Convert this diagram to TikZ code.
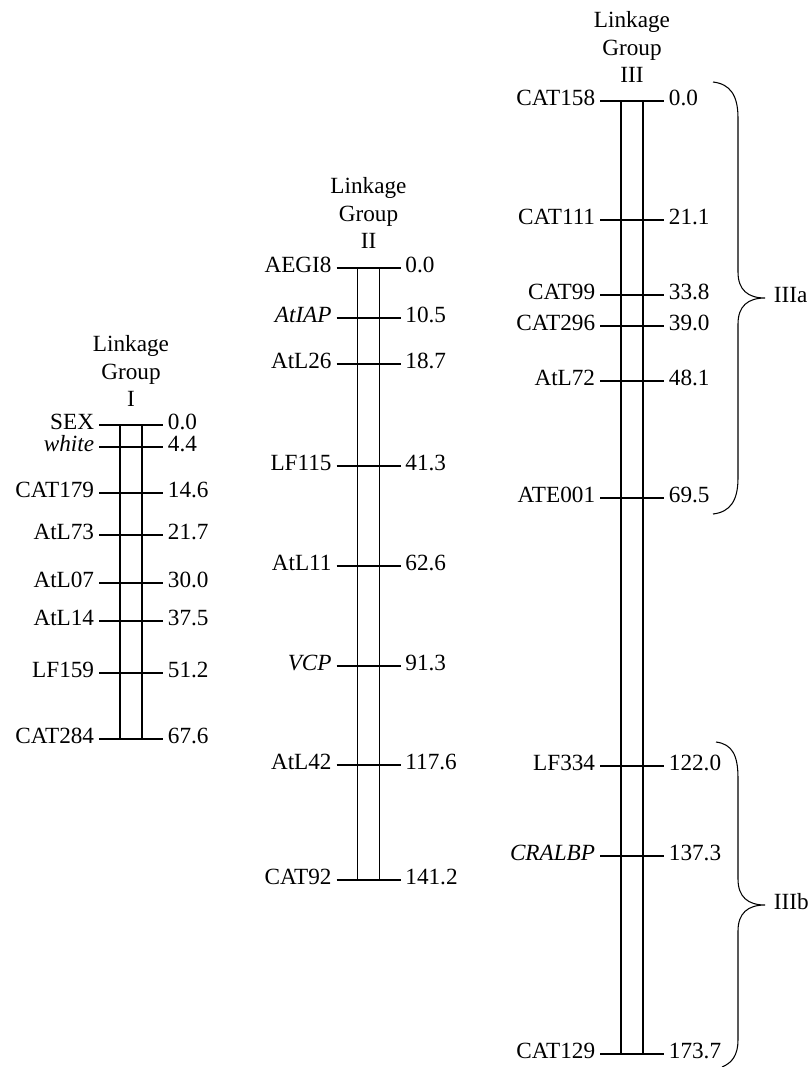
\documentclass[tikz,border=0pt]{standalone}
\usepackage{fontspec}
\setmainfont{Liberation Serif}
\usepackage{tikz}
\tikzset{
  lab/.style={font=\fontsize{16.5}{19.5}\selectfont, inner xsep=3.5pt, inner ysep=0pt, outer sep=0pt,
    text height=0.66em, text depth=0pt},
  grouptitle/.style={font=\fontsize{16.5}{19.56}\selectfont, align=center, inner sep=0pt, anchor=south},
  thinline/.style={line width=0.75pt}
}

\begin{document}
\begin{tikzpicture}[x=0.025cm, y=-0.025cm, thinline]
    \useasboundingbox (0,0) rectangle (808,1067);

    % 连锁群 I
    \node[grouptitle] (titleI) at (131,407.5) {Linkage\\Group\\I};
    \draw (120,425) rectangle (142,739);
    \foreach \y/\name/\val [count=\i] in {425/SEX/0.0, 447/\textit{white}/4.4,
        493/CAT179/14.6, 535/AtL73/21.7, 583/AtL07/30.0, 621/AtL14/37.5,
        673/LF159/51.2, 739/CAT284/67.6} {
      \node[lab, anchor=east] (Ia\i) at (99,\y) {\name};
      \node[lab, anchor=west] (Ib\i) at (163,\y) {\val};
      \draw (Ia\i.east) -- (Ib\i.west);
    }

    % 连锁群 II
    \node[grouptitle] (titleII) at (368.5,249.5) {Linkage\\Group\\II};
    \draw (357.5,268) rectangle (379.5,880);
    \foreach \y/\name/\val [count=\i] in {268/AEGI8/0.0, 318/\textit{AtIAP}/10.5,
        364/AtL26/18.7, 466/LF115/41.3, 566/AtL11/62.6, 666/\textit{VCP}/91.3,
        765/AtL42/117.6, 880/CAT92/141.2} {
      \node[lab, anchor=east] (IIa\i) at (336.5,\y) {\name};
      \node[lab, anchor=west] (IIb\i) at (400.5,\y) {\val};
      \draw (IIa\i.east) -- (IIb\i.west);
    }

    % 连锁群 III
    \node[grouptitle] (titleIII) at (632,83.5) {Linkage\\Group\\III};
    \draw (621,101) rectangle (643,1054);
    \foreach \y/\name/\val [count=\i] in {101/CAT158/0.0, 220/CAT111/21.1,
        295/CAT99/33.8, 326/CAT296/39.0, 381/AtL72/48.1, 498/ATE001/69.5,
        766/LF334/122.0, 856/\textit{CRALBP}/137.3, 1054/CAT129/173.7} {
      \node[lab, anchor=east] (IIIa\i) at (600,\y) {\name};
      \node[lab, anchor=west] (IIIb\i) at (664,\y) {\val};
      \draw (IIIa\i.east) -- (IIIb\i.west);
    }

    % 花括号 IIIa
    \draw (713,82) .. controls (730,84) and (738,95) .. (738,118) -- (738,272)
        .. controls (738,290) and (748,298) .. (765,298)
        .. controls (748,298) and (738,306) .. (738,324) -- (738,478)
        .. controls (738,501) and (730,512) .. (713,514);
    \node[lab, anchor=west] (subIIIa) at (769,298) {IIIa};

    % 花括号 IIIb
    \draw (716,742) .. controls (732,744) and (738,755) .. (738,778) -- (738,879)
        .. controls (738,897) and (748,905) .. (765,905)
        .. controls (748,905) and (738,913) .. (738,931) -- (738,1040)
        .. controls (738,1055) and (732,1063) .. (722,1067);
    \node[lab, anchor=west] (subIIIb) at (769,905) {IIIb};
    \end{tikzpicture}
\end{document}
